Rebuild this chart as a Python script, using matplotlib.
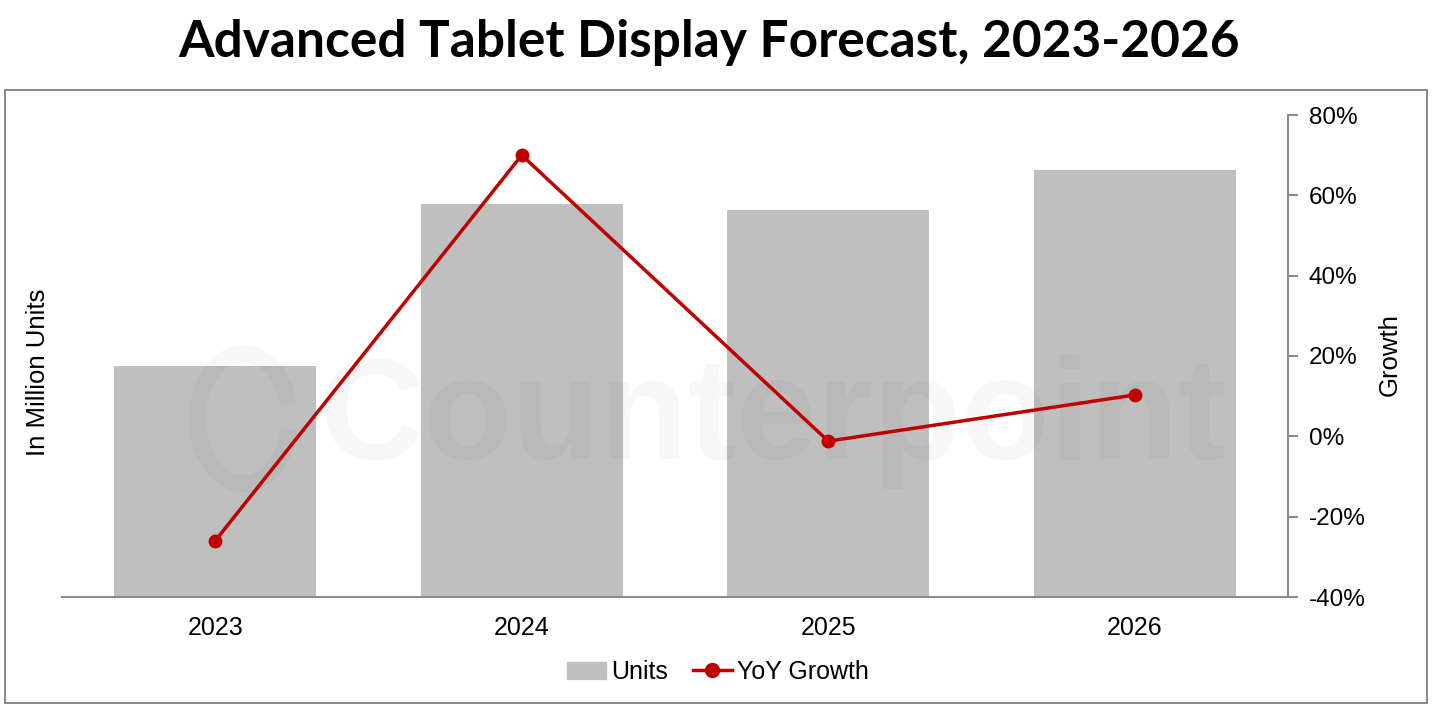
import matplotlib.pyplot as plt
from matplotlib.patches import Rectangle, Arc
from matplotlib.lines import Line2D
from matplotlib.ticker import FuncFormatter

# data
years = ["2023", "2024", "2025", "2026"]
units = [28.7, 48.9, 48.2, 53.1]          # million units (left axis, hidden)
yoy_growth = [-26.0, 70.0, -1.2, 10.3]    # percent (right axis)

BAR_COLOR = "#bfbfbf"
LINE_COLOR = "#c00000"
AXIS_GRAY = "#8c8c8c"

plt.rcParams["font.family"] = ["Liberation Sans", "DejaVu Sans"]

W, H = 1434, 708
fig = plt.figure(figsize=(W / 100, H / 100), dpi=100)


def fx(px):
    return px / W


def fy(py):
    return 1 - py / H


# outer frame around the chart block
fig.patches.append(Rectangle((fx(5), fy(703)), fx(1427) - fx(5), fy(90) - fy(703),
                             transform=fig.transFigure, fill=False,
                             edgecolor="#7f7f7f", lw=1.3))

fig.text(fx(709), fy(42), "Advanced Tablet Display Forecast, 2023-2026",
         ha="center", va="center", fontsize=37, fontweight="bold",
         family=["Lato", "DejaVu Sans"])

ax = fig.add_axes([fx(62), fy(597), fx(1288) - fx(62), fy(115) - fy(597)])
x = list(range(len(years)))
ax.bar(x, units, width=0.66, color=BAR_COLOR, zorder=1)
ax.set_xlim(-0.5, 3.5)
ax.set_ylim(0, 60)
ax.set_yticks([])
ax.set_xticks(x)
ax.set_xticklabels(years, fontsize=18)
ax.tick_params(axis="x", length=0, pad=14)
for side in ("left", "right", "top"):
    ax.spines[side].set_visible(False)
ax.spines["bottom"].set_color(AXIS_GRAY)
ax.spines["bottom"].set_linewidth(1.5)

# faint watermark on top of the bars
ax.text(0.58, 0.365, "Counterpoint", transform=ax.transAxes, ha="center",
        va="center", fontsize=104, fontweight="bold", color="black",
        alpha=0.03, zorder=2)
ax.add_patch(Arc((0.148, 0.37), 0.075, 0.27, angle=0, theta1=40, theta2=330,
                 transform=ax.transAxes, color="black", alpha=0.03, lw=12,
                 zorder=2))

ax2 = ax.twinx()
ax2.plot(x, yoy_growth, color=LINE_COLOR, lw=2.5, marker="o", ms=9, zorder=3)
ax2.set_ylim(-40, 80)
ax2.set_yticks(range(-40, 81, 20))
ax2.yaxis.set_major_formatter(FuncFormatter(lambda v, _: f"{v:.0f}%"))
ax2.tick_params(axis="y", labelsize=17.5, length=7, width=1.5, color=AXIS_GRAY, pad=8)
for side in ("left", "top", "bottom"):
    ax2.spines[side].set_visible(False)
ax2.spines["right"].set_color(AXIS_GRAY)
ax2.spines["right"].set_linewidth(1.5)

fig.text(fx(38), fy(372), "In Million Units", rotation=90, ha="center",
         va="center", fontsize=18.5)
fig.text(fx(1390), fy(355), "Growth", rotation=90, ha="center",
         va="center", fontsize=18.5)

handles = [Rectangle((0, 0), 1, 1, color=BAR_COLOR),
           Line2D([], [], color=LINE_COLOR, lw=2.5, marker="o", ms=10)]
fig.legend(handles, ["Units", "YoY Growth"], loc="center",
           bbox_to_anchor=(fx(718), fy(672)), ncol=2, frameon=False,
           fontsize=18, handlelength=1.55, handletextpad=0.2, columnspacing=1.0)

fig.savefig("out.png", dpi=100)
